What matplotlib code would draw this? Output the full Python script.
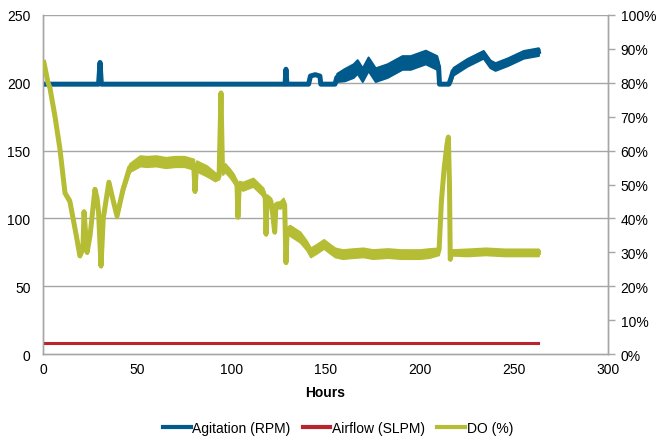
import matplotlib
matplotlib.use("Agg")
import matplotlib.pyplot as plt
import numpy as np

plt.rcParams['font.family'] = ['Liberation Sans', 'DejaVu Sans']

# ---- data ----
agit_hours = [0, 29.5, 30.3, 31, 128.5, 129, 129.5, 141, 142, 144.5, 147, 147.5, 155,
              156, 160, 164.7, 166.8, 169.5, 172.6, 176.4, 182.7, 190.6, 195, 203, 209,
              210, 210.5, 215.5, 216.5, 217.7, 225, 233.7, 237.3, 240, 246.5, 255, 263]
agit_rpm = [199, 199, 215, 199, 199, 210, 199, 199, 205, 206, 205, 199, 199,
            204, 206, 209, 212, 206, 214, 206, 209, 215, 215, 219, 215,
            212, 199, 199, 203, 208.5, 215, 221, 214, 212, 215.5, 221, 223]
agit_spread = [0, 0, 0, 0, 0, 0, 0, 0, 0, 0, 0, 0, 0,
               3, 4.5, 5, 5, 5, 5, 5, 5, 5, 5, 5, 5,
               3, 0, 0, 2, 2.8, 2.8, 2.8, 2.8, 2.8, 2.8, 2.8, 2.8]

air_hours = [0, 263]
air_slpm = [8, 8]

do_hours = [0.5, 2.7, 3.7, 6.4, 9, 11.7, 14.3, 16, 18, 19.6, 21.2, 21.8, 23.4, 25,
            27.6, 28.7, 29.5, 30.8, 32, 35, 36.7, 39.3, 42.5, 46, 51.5, 55, 60, 65,
            70, 75, 80, 80.7, 81.5, 87, 91.3, 93.5, 94.5, 95.3, 96.6, 99, 101, 103,
            103.5, 104.2, 106, 111.5, 116.8, 118, 118.4, 118.9, 121, 122, 123, 123.7,
            126, 127.5, 128.3, 129, 129.6, 131, 136.5, 140, 142, 145, 149, 152.5, 155,
            159, 165, 170, 175, 183, 190, 200, 205, 210, 210.3, 211.5, 213, 214.5,
            215.2, 215.8, 216.2, 217, 225, 235, 245, 255, 263]
do_pct = [86, 80, 78.5, 70, 60.5, 47.5, 45, 40, 34, 29, 31, 42, 30, 35,
          48.6, 46, 42, 26, 40, 50.7, 46.6, 40.7, 48.6, 55, 57, 56.8, 57, 56.5,
          56.8, 56.8, 56, 48, 55.5, 54, 52.3, 52.5, 77, 54, 55, 53.5, 52, 50,
          40.4, 50, 49.5, 50.7, 47.8, 46, 35.4, 46, 45, 41, 36, 44,
          44, 45, 44, 27, 36.5, 36.5, 34.5, 32, 30, 31, 32.5, 31, 30,
          29.5, 29.8, 30, 29.5, 29.8, 29.5, 29.5, 29.8, 30.3, 31, 45, 55, 62,
          64, 50, 28, 30, 30, 30.3, 30, 30, 30]
do_spread = [0.3, 0.5, 0.5, 0.5, 0.5, 0.5, 0.8, 0.5, 0.5, 0.3, 0.3, 0.3, 0.3, 0.5,
             0.5, 0.5, 0.3, 0.3, 0.3, 0.5, 0.5, 0.5, 0.8, 1.2, 1.5, 1.5, 1.5, 1.5,
             1.5, 1.5, 1.5, 0.3, 1.5, 1.5, 1.2, 0.8, 0.3, 1.0, 1.2, 1.2, 1.2, 1.0,
             0.3, 1.0, 1.2, 1.2, 1.2, 1.0, 0.3, 1.0, 1.0, 0.5, 0.3, 0.8,
             1.0, 1.0, 0.8, 0.3, 1.0, 1.5, 1.5, 1.3, 1.3, 1.3, 1.3, 1.3, 1.3,
             1.3, 1.3, 1.3, 1.3, 1.3, 1.3, 1.3, 1.3, 1.0, 0.3, 0.3, 0.3, 0.3,
             0.3, 0.3, 0.3, 0.8, 1.0, 1.0, 1.0, 1.0, 1.0]

left_ticks = [0, 50, 100, 150, 200, 250]
right_ticks = [0, 10, 20, 30, 40, 50, 60, 70, 80, 90, 100]
x_ticks = [0, 50, 100, 150, 200, 250, 300]

c_agit = '#005A8C'
c_air = '#B8252F'
c_do = '#B5BD35'
c_grid = '#A6A6A6'

fig = plt.figure(figsize=(6.56, 4.39), dpi=100)
ax = fig.add_axes([0.0655, 0.191, 0.8615, 0.7726])
ax2 = ax.twinx()

ax.set_xlim(0, 300)
ax.set_ylim(0, 250)
ax2.set_ylim(0, 100)

ax.set_yticks(left_ticks)
ax.set_xticks(x_ticks)
ax2.set_yticks(right_ticks)
ax2.set_yticklabels([f"{t}%" for t in right_ticks])

for y in left_ticks[1:]:
    ax.axhline(y, color=c_grid, lw=1.0, zorder=0)

for a in (ax, ax2):
    for s in a.spines.values():
        s.set_color(c_grid)
        s.set_linewidth(1.0)
    a.spines['top'].set_visible(False)

ax.tick_params(axis='both', length=0, labelsize=10, colors='#000000', pad=6)
ax.tick_params(axis='y', pad=9)
ax2.tick_params(axis='y', length=5, width=1.0, color=c_grid, labelsize=10,
                labelcolor='#000000', pad=4, direction='out')

a_h = np.array(agit_hours); a_v = np.array(agit_rpm); a_s = np.array(agit_spread)
ax.fill_between(a_h, a_v - a_s, a_v + a_s, color=c_agit, lw=1.5, edgecolor=c_agit,
                zorder=3)
l1, = ax.plot(agit_hours, agit_rpm, color=c_agit, lw=3.6, solid_joinstyle='round',
              label='Agitation (RPM)', zorder=3)
l2, = ax.plot(air_hours, air_slpm, color=c_air, lw=2.2, label='Airflow (SLPM)', zorder=3)
d_h = np.array(do_hours); d_v = np.array(do_pct); d_s = np.array(do_spread)
ax2.fill_between(d_h, d_v - d_s, d_v + d_s, color=c_do, lw=1.5, edgecolor=c_do, zorder=3)
l3, = ax2.plot(do_hours, do_pct, color=c_do, lw=3.6, solid_joinstyle='round',
               label='DO (%)', zorder=3)

ax.set_xlabel('Hours', fontsize=10, fontweight='bold', labelpad=6)

leg = fig.legend(handles=[l1, l2, l3], loc='lower center', ncol=3, frameon=False,
                 bbox_to_anchor=(0.515, -0.022), fontsize=10, handlelength=2.0,
                 handletextpad=0.1, columnspacing=0.9)
for h in leg.get_lines():
    h.set_linewidth(3)

fig.savefig('out.png', dpi=100)
